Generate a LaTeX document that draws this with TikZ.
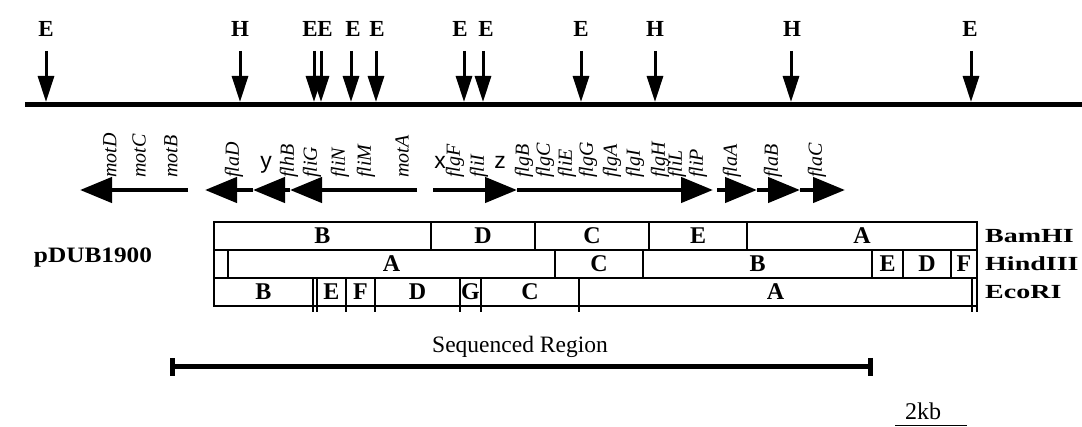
\documentclass[tikz,border=0pt]{standalone}
\usepackage{fontspec}
\setmainfont{Liberation Serif}
\setsansfont{Liberation Sans}
\newfontfamily\widefont[FakeStretch=1.4]{Liberation Serif}
\newfontfamily\namefont[FakeStretch=1.15]{Liberation Serif}
\usetikzlibrary{positioning, arrows.meta}

\begin{document}
\begin{tikzpicture}[
  x=1pt, y=-1pt,
  site/.style={font=\fontsize{23}{23}\selectfont\bfseries, anchor=base, inner sep=0pt},
  cutarrow/.style={line width=3pt, -{Triangle[length=26pt, width=16pt]}, shorten <=14pt},
  gene/.style={font=\fontsize{20}{20}\selectfont\itshape, rotate=90, anchor=west, inner sep=0pt},
  tag/.style={font=\fontsize{23}{23}\selectfont\sffamily, anchor=base, inner sep=0pt},
  orf/.style={line width=4.5pt, -{Triangle[length=32pt, width=25pt]}},
  frag/.style={draw, line width=2.5pt, minimum height=28pt, inner sep=0pt, outer sep=0pt,
    font=\fontsize{24}{24}\selectfont\bfseries},
  enzyme/.style={font=\fontsize{20}{20}\selectfont\widefont\bfseries, inner sep=0pt},
]
\useasboundingbox (0,0) rectangle (1082,427);

% Insert with EcoRI (E) and HindIII (H) sites
\coordinate (mapL) at (25,105);
\coordinate (mapR) at (1082,105);
\draw[line width=5pt] (mapL) -- (mapR);

\node[site] (E1) at (46,37) {E};
\node[site] (H1) at (240,37) {H};
\node[site] (E2) at (310,37) {E};
\node[site] (E3) at (325,37) {E};
\node[site] (E4) at (353,37) {E};
\node[site] (E5) at (377,37) {E};
\node[site] (E6) at (460,37) {E};
\node[site] (E7) at (486,37) {E};
\node[site] (E8) at (581,37) {E};
\node[site] (H2) at (655,37) {H};
\node[site] (H3) at (792,37) {H};
\node[site] (E9) at (970,37) {E};

\coordinate (tE1) at (46,102);
\coordinate (tH1) at (240,102);
\coordinate (tE2) at (314,102);
\coordinate (tE3) at (321,102);
\coordinate (tE4) at (351,102);
\coordinate (tE5) at (376,102);
\coordinate (tE6) at (464,102);
\coordinate (tE7) at (483,102);
\coordinate (tE8) at (581,102);
\coordinate (tH2) at (655,102);
\coordinate (tH3) at (791,102);
\coordinate (tE9) at (971,102);

\draw[cutarrow] (tE1 |- E1.base) -- (tE1);
\draw[cutarrow] (tH1 |- H1.base) -- (tH1);
\draw[cutarrow] (tE2 |- E2.base) -- (tE2);
\draw[cutarrow] (tE3 |- E3.base) -- (tE3);
\draw[cutarrow] (tE4 |- E4.base) -- (tE4);
\draw[cutarrow] (tE5 |- E5.base) -- (tE5);
\draw[cutarrow] (tE6 |- E6.base) -- (tE6);
\draw[cutarrow] (tE7 |- E7.base) -- (tE7);
\draw[cutarrow] (tE8 |- E8.base) -- (tE8);
\draw[cutarrow] (tH2 |- H2.base) -- (tH2);
\draw[cutarrow] (tH3 |- H3.base) -- (tH3);
\draw[cutarrow] (tE9 |- E9.base) -- (tE9);

% Genes
\node[gene] (motD) at (110,178) {motD};
\node[gene] (motC) at (139,178) {motC};
\node[gene] (motB) at (171,178) {motB};
\node[gene] (flaD) at (234,178) {flaD};
\node[gene] (flhB) at (289,178) {flhB};
\node[gene] (fliG) at (312,178) {fliG};
\node[gene] (fliN) at (340,178) {fliN};
\node[gene] (fliM) at (366,178) {fliM};
\node[gene] (motA) at (402,178) {motA};
\node[gene] (flgF) at (455,178) {flgF};
\node[gene] (fliI) at (479,178) {fliI};
\node[gene] (flgB) at (524,178) {flgB};
\node[gene] (flgC) at (545,178) {flgC};
\node[gene] (fliE) at (567,178) {fliE};
\node[gene] (flgG) at (588,178) {flgG};
\node[gene] (flgA) at (612,178) {flgA};
\node[gene] (flgI) at (635,178) {flgI};
\node[gene] (flgH) at (660,178) {flgH};
\node[gene] (fliL) at (677,178) {fliL};
\node[gene] (fliP) at (698,178) {fliP};
\node[gene] (flaA) at (732,178) {flaA};
\node[gene] (flaB) at (773,178) {flaB};
\node[gene] (flaC) at (817,178) {flaC};

\node[tag] (orfY) at (266,169) {y};
\node[tag] (orfX) at (440,169) {x};
\node[tag] (orfZ) at (500,169) {z};

% Transcription units
\coordinate (opA0) at (188,190);
\coordinate (opA1) at (80,190);
\coordinate (opB0) at (417,190);
\coordinate (opB1) at (290,190);
\coordinate (opB2) at (253,190);
\coordinate (opB3) at (205,190);
\coordinate (opC0) at (433,190);
\coordinate (opC1) at (517,190);
\coordinate (opC2) at (713,190);
\coordinate (opD0) at (717,190);
\coordinate (opD1) at (757,190);
\coordinate (opD2) at (800,190);
\coordinate (opD3) at (845,190);

\draw[orf] (opA0) -- (opA1);
\draw[orf] (opB0) -- (opB1);
\draw[orf] (opB1) -- (opB2);
\draw[orf] (opB2) -- (opB3);
\draw[orf] (opC0) -- (opC1);
\draw[orf] (opC1) -- (opC2);
\draw[orf] (opD0) -- (opD1);
\draw[orf] (opD1) -- (opD2);
\draw[orf] (opD2) -- (opD3);

% Restriction fragments
\node[frag, minimum width=217pt, anchor=west] (bamB) at (214,236) {B};
\node[frag, minimum width=104pt, right=0pt of bamB] (bamD) {D};
\node[frag, minimum width=114pt, right=0pt of bamD] (bamC) {C};
\node[frag, minimum width=98pt, right=0pt of bamC] (bamE) {E};
\node[frag, minimum width=230pt, right=0pt of bamE] (bamA) {A};

\node[frag, minimum width=14pt, anchor=west] (hindX) at (214,264) {};
\node[frag, minimum width=327pt, right=0pt of hindX] (hindA) {A};
\node[frag, minimum width=88pt, right=0pt of hindA] (hindC) {C};
\node[frag, minimum width=229pt, right=0pt of hindC] (hindB) {B};
\node[frag, minimum width=31pt, right=0pt of hindB] (hindE) {E};
\node[frag, minimum width=48pt, right=0pt of hindE] (hindD) {D};
\node[frag, minimum width=26pt, right=0pt of hindD] (hindF) {F};

\node[frag, minimum width=99pt, anchor=west] (ecoB) at (214,292) {B};
\node[frag, minimum width=4pt, right=0pt of ecoB] (ecoX) {};
\node[frag, minimum width=29pt, right=0pt of ecoX] (ecoE) {E};
\node[frag, minimum width=29pt, right=0pt of ecoE] (ecoF) {F};
\node[frag, minimum width=85pt, right=0pt of ecoF] (ecoD) {D};
\node[frag, minimum width=21pt, right=0pt of ecoD] (ecoG) {G};
\node[frag, minimum width=98pt, right=0pt of ecoG] (ecoC) {C};
\node[frag, minimum width=393pt, right=0pt of ecoC] (ecoA) {A};
\node[frag, minimum width=5pt, right=0pt of ecoA] (ecoY) {};

\draw[line width=1.5pt] (ecoB.south east) -- ++(0,6) (ecoX.south east) -- ++(0,6)
  (ecoE.south east) -- ++(0,6) (ecoF.south east) -- ++(0,6)
  (ecoD.south east) -- ++(0,6) (ecoG.south east) -- ++(0,6)
  (ecoC.south east) -- ++(0,6) (ecoA.south east) -- ++(0,6)
  (ecoY.south east) -- ++(0,6);

\node[enzyme, right=8pt of bamA] (bamHI) {BamHI};
\node[enzyme, right=8pt of hindF] (hindIII) {HindIII};
\node[enzyme, right=8pt of ecoY] (ecoRI) {EcoRI};

\node[anchor=base, font=\fontsize{22}{22}\selectfont\namefont\bfseries] (plasmid) at (93,263) {pDUB1900};

% Sequenced region and scale
\node[anchor=base, font=\fontsize{23.5}{23.5}\selectfont] (seqlabel) at (520,353) {Sequenced Region};
\coordinate (seqL) at (170,367);
\coordinate (seqR) at (873,367);
\draw[line width=5pt, {Bar[width=18pt]}-{Bar[width=18pt]}] (seqL) -- (seqR);

\node[anchor=base, font=\fontsize{24}{24}\selectfont] (kb) at (923,420) {2kb};
\coordinate (kbL) at (895,425.5);
\coordinate (kbR) at (967,425.5);
\draw[line width=1.5pt] (kbL) -- (kbR);

\end{tikzpicture}
\end{document}
